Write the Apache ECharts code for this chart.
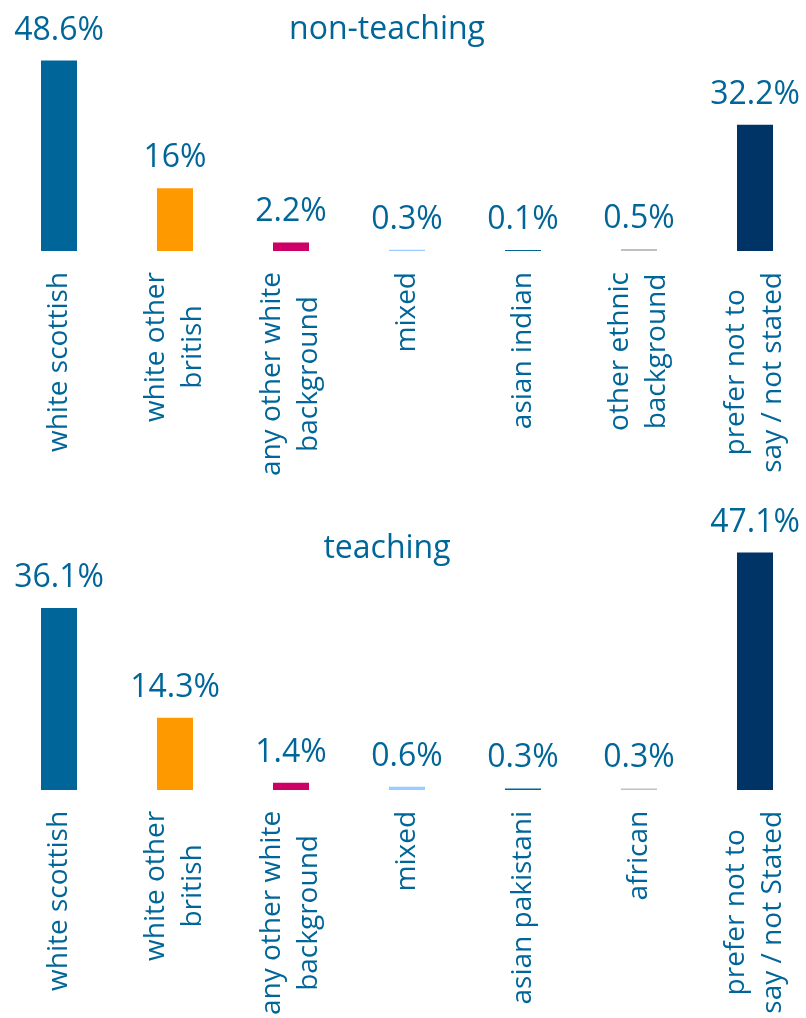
<!DOCTYPE html>
<html>
<head>
<meta charset="utf-8">
<script src="https://cdn.jsdelivr.net/npm/echarts@6/dist/echarts.min.js"></script>
<style>
  html, body {margin: 0; padding: 0; background: #fff;}
  #main {width: 806px; height: 1018px;}
</style>
</head>
<body>
<div id="main"></div>
<script>
// 数据
var nonTeachingCategories = ['white scottish', 'white other\nbritish', 'any other white\nbackground', 'mixed',
    'asian indian', 'other ethnic\nbackground', 'prefer not to\nsay / not stated'];
var nonTeachingValues = [48.6, 16, 2.2, 0.3, 0.1, 0.5, 32.2];

var teachingCategories = ['white scottish', 'white other\nbritish', 'any other white\nbackground', 'mixed',
    'asian pakistani', 'african', 'prefer not to\nsay / not Stated'];
var teachingValues = [36.1, 14.3, 1.4, 0.6, 0.3, 0.3, 47.1];

var barColors = ['#006699', '#ff9900', '#cc0066', '#99ccff', '#006699', '#c0c0c0', '#003366'];
var textColor = '#006699';
var fontName = 'Open Sans';

function coloredData(values) {
    return values.map(function (v, i) {
        return {value: v, itemStyle: {color: barColors[i]}};
    });
}

//多行标签居中
function catLabel(value) {
    return value.split('\n').map(function (s) { return '{c|' + s + '}'; }).join('\n');
}

function xAxisOf(gridIndex, cats) {
    return {
        type: 'category',
        gridIndex: gridIndex,
        data: cats,
        boundaryGap: false,
        axisLine: {show: false},
        axisTick: {show: false},
        splitLine: {show: false},
        axisLabel: {
            interval: 0,
            rotate: 90,
            margin: 21,
            formatter: catLabel,
            rich: {
                c: {align: 'center', fontSize: 28, lineHeight: 37, color: textColor, fontFamily: fontName}
            }
        }
    };
}

function yAxisOf(gridIndex) {
    return {
        type: 'value',
        gridIndex: gridIndex,
        min: 0,
        max: 50,
        show: false,
        splitLine: {show: false}
    };
}

function barSeries(index, values) {
    return {
        type: 'bar',
        xAxisIndex: index,
        yAxisIndex: index,
        barWidth: 36,
        barMinHeight: 1,
        label: {
            show: true,
            position: 'top',
            distance: 14,
            formatter: '{c}%',
            color: textColor,
            fontSize: 32,
            fontFamily: fontName
        },
        data: coloredData(values)
    };
}

var myChart = echarts.init(document.getElementById('main'));
var option = {
    animation: false,
    title: [
        {text: 'non-teaching', left: 382, top: 9, textAlign: 'center',
            textStyle: {color: textColor, fontSize: 32, fontWeight: 'normal', fontFamily: fontName}},
        {text: 'teaching', left: 382, top: 528, textAlign: 'center',
            textStyle: {color: textColor, fontSize: 32, fontWeight: 'normal', fontFamily: fontName}}
    ],
    grid: [
        {left: 59, width: 696, top: 55, height: 196},
        {left: 59, width: 696, top: 538, height: 255}
    ],
    xAxis: [xAxisOf(0, nonTeachingCategories), xAxisOf(1, teachingCategories)],
    yAxis: [yAxisOf(0), yAxisOf(1)],
    series: [barSeries(0, nonTeachingValues), barSeries(1, teachingValues)]
};
myChart.setOption(option);
</script>
</body>
</html>
